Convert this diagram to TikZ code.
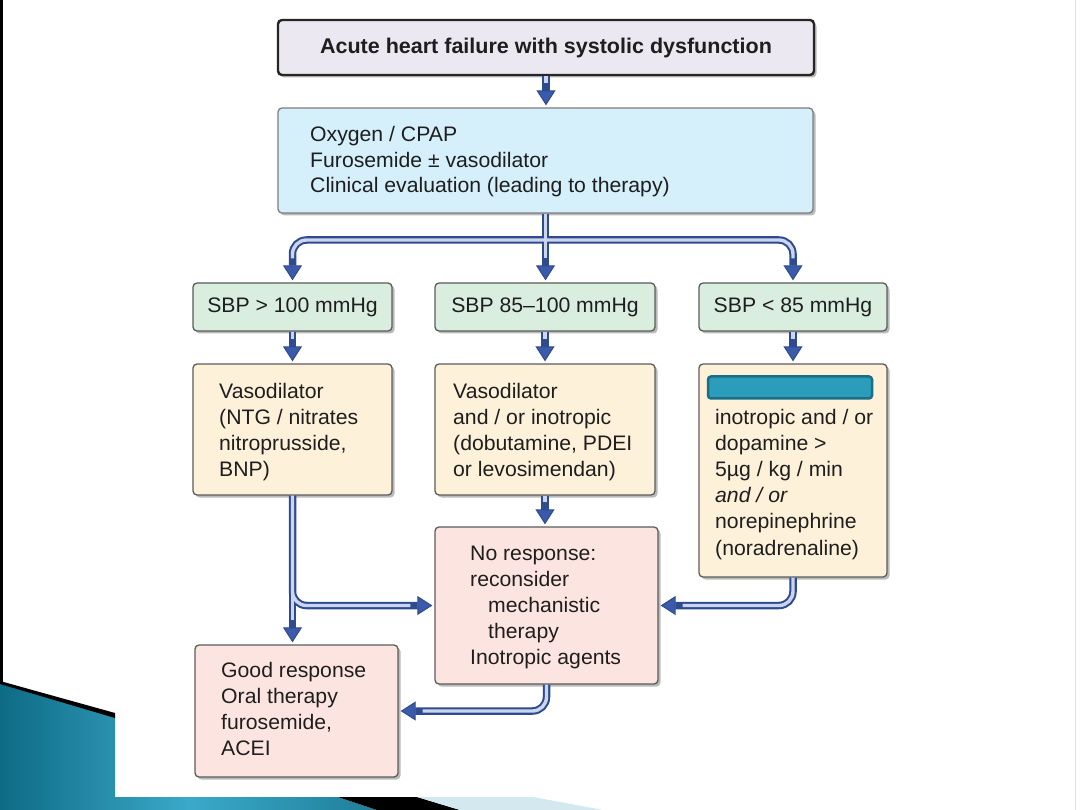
\documentclass[tikz,border=0pt]{standalone}
\usepackage{fontspec}
\setmainfont{Liberation Sans}[FakeStretch=1.01]
\usetikzlibrary{arrows.meta,shadows}
\definecolor{titlefill}{HTML}{ECE8F1}
\definecolor{bluefill}{HTML}{D5EFFB}
\definecolor{greenfill}{HTML}{DAEEDF}
\definecolor{yellowfill}{HTML}{FDF1DA}
\definecolor{pinkfill}{HTML}{FCE5E0}
\definecolor{boxline}{HTML}{5C5C5C}
\definecolor{arrdark}{HTML}{2F4B8F}
\definecolor{arrhead}{HTML}{3B5BAA}
\definecolor{arrlight}{HTML}{CCD4EE}
\definecolor{txtcol}{HTML}{1E1E1E}
\definecolor{maskfill}{HTML}{2B9DBA}
\definecolor{maskdark}{HTML}{1B6E85}
\definecolor{tealA}{HTML}{0E6B85}
\definecolor{tealB}{HTML}{3BA9CA}
\definecolor{tealC}{HTML}{1E7F99}
\definecolor{paleblue}{HTML}{D3E8EF}
\newcommand\allconns[1]{%
  \draw[#1] (title.south) -- (title.south |- blue.north);
  \draw[#1] (blue.south) -- (blue.south |- g2.north);
  \draw[#1] (split) -| (g1.north);
  \draw[#1] (split) -| (g3.north);
  \draw[#1] (g1.south) -- (y1.north);
  \draw[#1] (g2.south) -- (y2.north);
  \draw[#1] (g3.south) -- (y3.north);
  \draw[#1] (y2.south) -- (y2.south |- pink.north);
  \draw[#1] (y1.south) -- (y1.south |- good.north);
  \draw[#1] (y1.south) |- (pink.west);
  \draw[#1] (y3.south) |- (pink.east);
  \draw[#1] (pink.south) |- (good.east);
}
\begin{document}
\begin{tikzpicture}[x=1pt,y=-1pt,
  box/.style={draw=boxline,line width=1.3pt,rounded corners=4pt,inner sep=0pt,
    drop shadow={shadow xshift=2.5pt,shadow yshift=-2.5pt,fill=black!60,opacity=.45}},
  fs/.style={font=\fontsize{21pt}{25pt}\selectfont},
  txt/.style={fs,anchor=base west,inner sep=0pt,text=txtcol},
  arrO/.style={draw=arrdark,line width=7.5pt,rounded corners=14pt,shorten >=2pt,
    -{Triangle[width=19pt,length=15pt,line width=1pt,fill=arrhead]}},
  arrI/.style={draw=arrlight,line width=3.4pt,rounded corners=14pt,shorten >=24pt},
]
% slide background
\fill[white] (0,0) rectangle (1080,810);
\useasboundingbox (0,0) rectangle (1080,810);
\fill[black] (0,0) rectangle (3,683);
\shade[left color=tealA,right color=tealC,middle color=tealB]
  (0,683) -- (115,716) -- (115,797) -- (338,797) -- (377,810) -- (0,810) -- cycle;
\fill[black] (0,681) -- (115,713) -- (115,718) -- (0,684) -- cycle;
\fill[black] (338,797) -- (417,797) -- (460,810) -- (377,810) -- cycle;
\fill[paleblue] (417,797) -- (533,797) -- (603,810) -- (460,810) -- cycle;
\draw[gray!25,line width=1pt] (1075.5,0) -- (1075.5,810);

% boxes
\node[box,fill=titlefill,draw=black!85,line width=2.4pt,minimum width=536pt,minimum height=55pt,
  text=txtcol,font=\bfseries\fontsize{21.3pt}{24pt}\selectfont] (title) at (546,47.5)
  {Acute heart failure with systolic dysfunction};
\node[box,fill=bluefill,draw=boxline!80,minimum width=535pt,minimum height=105pt] (blue) at (545.5,160.5) {};
\node[box,fill=greenfill,minimum width=199pt,minimum height=48pt,fs,text=txtcol] (g1) at (292.5,307) {SBP > 100 mmHg};
\node[box,fill=greenfill,minimum width=220pt,minimum height=48pt,fs,text=txtcol] (g2) at (545,307) {SBP 85–100 mmHg};
\node[box,fill=greenfill,minimum width=188pt,minimum height=48pt,fs,text=txtcol] (g3) at (793,307) {SBP < 85 mmHg};
\node[box,fill=yellowfill,minimum width=199pt,minimum height=131pt] (y1) at (292.5,429.5) {};
\node[box,fill=yellowfill,minimum width=220pt,minimum height=131pt] (y2) at (545,429.5) {};
\node[box,fill=yellowfill,minimum width=188pt,minimum height=213pt] (y3) at (793,470.5) {};
\node[box,fill=pinkfill,minimum width=223pt,minimum height=157pt] (pink) at (546.5,605.5) {};
\node[box,fill=pinkfill,minimum width=203pt,minimum height=132pt] (good) at (296.5,711) {};
\coordinate (split) at (545.5,240);

% texts
\foreach \t [count=\i from 0] in {{Oxygen / CPAP},{Furosemide ± vasodilator},{Clinical evaluation (leading to therapy)}}
  \node[txt] (bt\i) at (310,{142+25.5*\i}) {\t};
\foreach \t [count=\i from 0] in {{Vasodilator},{(NTG / nitrates},{nitroprusside,},{BNP)}}
  \node[txt] (ya\i) at (219,{399+26*\i}) {\t};
\foreach \t [count=\i from 0] in {{Vasodilator},{and / or inotropic},{(dobutamine, PDEI},{or levosimendan)}}
  \node[txt] (yb\i) at (453,{399+26*\i}) {\t};
\foreach \t [count=\i from 1] in {{inotropic and / or},{dopamine >},{5µg / kg / min},{\itshape and / or},{norepinephrine},{(noradrenaline)}}
  \node[txt] (yc\i) at (715,{399+26*\i}) {\t};
\foreach \t [count=\i from 0] in {{No response:},{reconsider},{\hspace*{18pt}mechanistic},{\hspace*{18pt}therapy},{Inotropic agents}}
  \node[txt] (pt\i) at (470,{560+26.2*\i}) {\t};
\foreach \t [count=\i from 0] in {{Good response},{Oral therapy},{furosemide,},{ACEI}}
  \node[txt] (gt\i) at (221,{677+26*\i}) {\t};

\node[draw=maskdark,fill=maskfill,line width=2.5pt,rounded corners=3pt,minimum width=164pt,
  minimum height=22pt,inner sep=0pt] (mask) at (790,387.5) {};

% connectors
\allconns{arrO}
\allconns{arrI}
\end{tikzpicture}
\end{document}
